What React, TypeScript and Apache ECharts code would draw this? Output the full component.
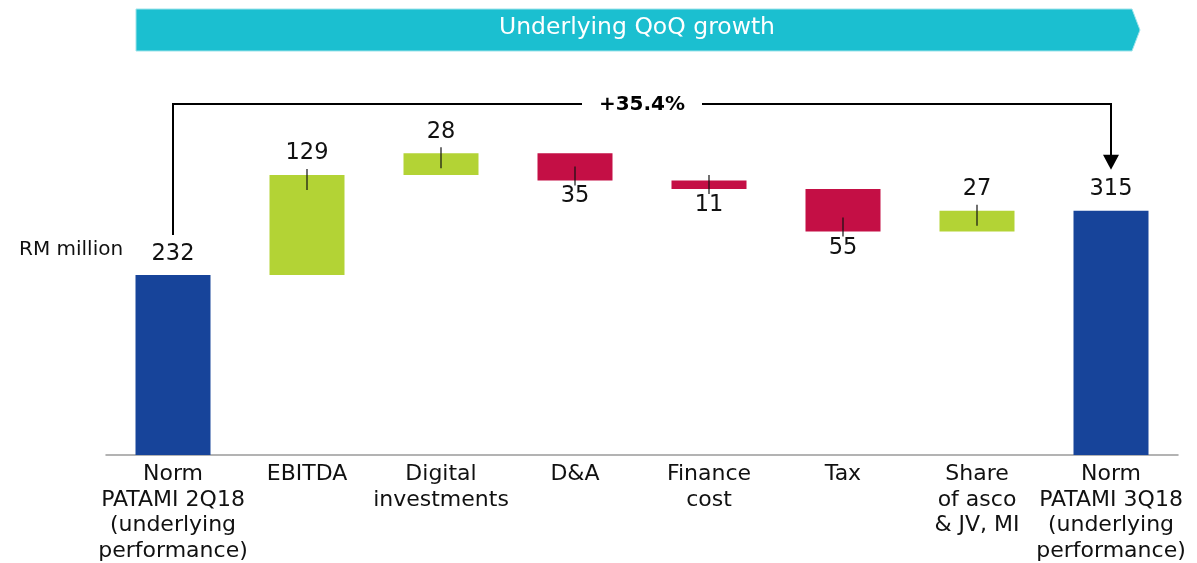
import { useEffect, useRef } from "react";
import * as echarts from "echarts";

const categories = [
  "Norm\nPATAMI 2Q18\n(underlying\nperformance)",
  "EBITDA",
  "Digital\ninvestments",
  "D&A",
  "Finance\ncost",
  "Tax",
  "Share\nof asco\n& JV, MI",
  "Norm\nPATAMI 3Q18\n(underlying\nperformance)",
];
const startValue = 232;
const deltas = [129, 28, -35, -11, -55, 27];
const endValue = 315;
const growthLabel = "+35.4%";
const bannerTitle = "Underlying QoQ growth";
const unitLabel = "RM million";

const BLUE = "#17449A";
const GREEN = "#B3D335";
const RED = "#C40F45";
const TEAL = "#1BBFD0";
const FONT = "DejaVu Sans";

type Item = { base: number; size: number; kind: "total" | "up" | "down" };

function buildItems(): Item[] {
  const items: Item[] = [{ base: 0, size: startValue, kind: "total" }];
  let running = startValue;
  for (const d of deltas) {
    if (d >= 0) {
      items.push({ base: running, size: d, kind: "up" });
      running += d;
    } else {
      running += d;
      items.push({ base: running, size: -d, kind: "down" });
    }
  }
  items.push({ base: 0, size: endValue, kind: "total" });
  return items;
}

export default function App() {
  const ref = useRef<HTMLDivElement>(null);
  useEffect(() => {
    if (!ref.current) return;
    const chart = echarts.init(ref.current, undefined, { renderer: "svg" });
    const items = buildItems();
    const colorOf = (k: string) => (k === "total" ? BLUE : k === "up" ? GREEN : RED);

    const tickData: number[][] = [];
    items.forEach((it, i) => {
      if (it.kind === "up") tickData.push([i, it.base + it.size, 1]);
      if (it.kind === "down") tickData.push([i, it.base, -1]);
    });

    chart.setOption({
      animation: false,
      grid: { left: 106, right: 19, top: 144.7, bottom: 108, containLabel: false },
      xAxis: {
        type: "category",
        data: categories,
        axisLine: { show: true, lineStyle: { color: "#9a9a9a", width: 1.5 } },
        axisTick: { show: false },
        axisLabel: {
          interval: 0,
          margin: 5,
          color: "#111",
          fontFamily: FONT,
          fontSize: 22,
          lineHeight: 25.5,
          verticalAlign: "top",
        },
      },
      yAxis: {
        type: "value",
        min: 0,
        max: 400,
        show: false,
        splitLine: { show: false },
      },
      series: [
        {
          type: "bar",
          stack: "w",
          barWidth: 75,
          silent: true,
          itemStyle: { color: "transparent" },
          data: items.map((it) => it.base),
        },
        {
          type: "bar",
          stack: "w",
          barWidth: 75,
          data: items.map((it) => ({
            value: it.size,
            itemStyle: { color: colorOf(it.kind) },
            label: {
              show: true,
              position: it.kind === "down" ? "bottom" : "top",
              distance: it.kind === "down" ? 2.5 : 12,
              color: "#111",
              fontFamily: FONT,
              fontSize: 22.5,
            },
          })),
        },
        {
          type: "custom",
          z: 10,
          encode: { x: 0, y: 1 },
          data: tickData,
          renderItem: (_params: any, api: any) => {
            const p = api.coord([api.value(0), api.value(1)]);
            const up = api.value(2) > 0;
            return {
              type: "line",
              shape: {
                x1: p[0],
                y1: p[1] + (up ? -6 : -14),
                x2: p[0],
                y2: p[1] + (up ? 15 : 5),
              },
              style: { stroke: "#111", lineWidth: 1.2 },
            };
          },
        },
      ],
    });

    const xL = chart.convertToPixel({ xAxisIndex: 0 }, 0) as number;
    const xR = chart.convertToPixel({ xAxisIndex: 0 }, items.length - 1) as number;
    const yStart = chart.convertToPixel({ yAxisIndex: 0 }, startValue) as number;
    const yEnd = chart.convertToPixel({ yAxisIndex: 0 }, endValue) as number;
    const yTop = 104;
    const xMid = (xL + xR) / 2;
    const gap = 60;

    chart.setOption({
      graphic: [
        {
          type: "polygon",
          shape: {
            points: [
              [136, 9],
              [1132, 9],
              [1140, 30],
              [1132, 51],
              [136, 51],
            ],
          },
          style: { fill: TEAL, stroke: "#9fe3ea", lineWidth: 1 },
        },
        {
          type: "text",
          x: 637,
          y: 26,
          style: {
            text: bannerTitle,
            fill: "#fff",
            fontFamily: FONT,
            fontSize: 23.5,
            align: "center",
            verticalAlign: "middle",
          },
        },
        {
          type: "text",
          x: 19,
          y: 248,
          style: {
            text: unitLabel,
            fill: "#111",
            fontFamily: FONT,
            fontSize: 20,
            align: "left",
            verticalAlign: "middle",
          },
        },
        {
          type: "polyline",
          shape: {
            points: [
              [xL, yStart - 40],
              [xL, yTop],
              [xMid - gap, yTop],
            ],
          },
          style: { stroke: "#000", lineWidth: 2, fill: null },
        },
        {
          type: "polyline",
          shape: {
            points: [
              [xMid + gap, yTop],
              [xR, yTop],
              [xR, yEnd - 52],
            ],
          },
          style: { stroke: "#000", lineWidth: 2, fill: null },
        },
        {
          type: "polygon",
          shape: {
            points: [
              [xR - 8, yEnd - 56],
              [xR + 8, yEnd - 56],
              [xR, yEnd - 41],
            ],
          },
          style: { fill: "#000" },
        },
        {
          type: "text",
          x: xMid,
          y: yTop - 1,
          style: {
            text: growthLabel,
            fill: "#000",
            fontFamily: FONT,
            fontWeight: "bold",
            fontSize: 20,
            align: "center",
            verticalAlign: "middle",
          },
        },
      ],
    });

    return () => chart.dispose();
  }, []);

  return (
    <div
      ref={ref}
      style={{ position: "fixed", left: 0, top: 0, width: 1197, height: 563 }}
    />
  );
}
